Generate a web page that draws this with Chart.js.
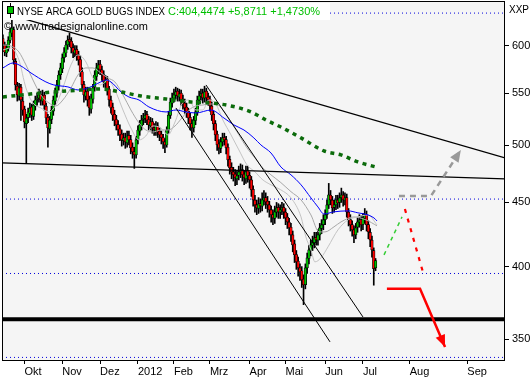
<!DOCTYPE html>
<html><head><meta charset="utf-8">
<script src="https://cdn.jsdelivr.net/npm/chart.js@4.4.1/dist/chart.umd.min.js"></script>
<style>html,body{margin:0;padding:0;background:#fff;}#wrap{width:532px;height:380px;}</style>
</head><body><div id="wrap"><canvas id="c" width="532" height="380"></canvas></div>
<script>
// ---------- DATA ----------
const monthTicks = [12, 33, 54, 75, 95, 115, 137, 157, 179, 200, 226, 258];
const monthLabels = ['Okt','Nov','Dez','2012','Feb','Mrz','Apr','Mai','Jun','Jul','Aug','Sep'];
const yTicks = [350, 400, 450, 500, 550, 600];

const opens = [608,601,592,597,606,614,618,583,557,547, 556,542,534,520,526,530,536,527,537,544,
 545,549,542,548,537,526,515,524,532,542, 550,557,569,575,587,592,601,607,605,598,
 592,596,590,585,572,559,547,552,544,534, 544,556,567,575,580,574,569,560,564,554,
 543,536,529,524,519,515,510,504,507,502, 509,505,498,494,491,505,513,518,524,525,
 529,524,518,522,516,513,518,513,510,507, 503,500,514,528,540,545,548,552,546,550,
 544,540,536,532,526,520,516,523,531,543, 547,550,545,552,546,544,537,529,520,510,
 501,497,503,507,505,498,487,480,476,474, 470,473,476,478,474,470,477,473,469,461,
 452,448,445,449,447,452,454,451,448,444, 440,437,442,446,442,444,446,442,438,434,
 430,424,417,409,404,399,397,391,387,399, 406,412,416,418,422,420,424,429,432,436,
 440,448,456,452,446,448,452,450,454,456, 452,454,442,436,432,428,424,430,434,436,
 432,437,440,432,426,420,412,399];
const highs = [612,604,601,610,620,629,621,586,561,560, 559,546,537,529,535,540,539,542,547,550,
 554,552,553,551,540,529,527,537,547,555, 563,573,581,591,598,605,611,614,609,602,
 600,600,594,589,576,562,556,556,547,549, 559,573,581,584,584,578,573,568,567,557,
 547,540,533,528,523,519,514,511,511,513, 513,509,502,498,508,518,523,528,530,533,
 532,527,526,525,520,522,521,516,513,510, 506,517,532,545,550,554,556,555,554,553,
 548,544,540,535,530,524,527,535,547,552, 554,554,557,555,550,547,541,532,523,513,
 505,507,511,511,508,501,490,484,480,478, 477,481,483,482,477,481,481,476,472,464,
 456,452,454,453,458,460,458,455,451,447, 444,447,450,449,448,450,449,445,441,437,
 433,427,420,412,407,402,400,394,402,410, 416,420,423,426,426,428,433,436,440,444,
 452,466,460,455,452,456,456,458,462,459, 458,457,445,440,435,431,433,438,440,439,
 441,445,443,435,429,423,414,406];
const lows = [597,589,588,594,603,610,580,553,542,543, 523,528,516,484,521,526,523,524,533,538,
 541,538,538,533,520,498,511,520,528,538, 546,553,564,571,582,588,596,599,592,587,
 588,584,579,567,553,541,543,537,528,530, 540,552,563,570,569,563,556,555,548,537,
 530,523,518,514,509,504,499,500,497,498, 500,492,488,479,488,501,509,514,519,521,
 519,514,514,511,509,509,507,504,501,497, 493,498,511,525,536,541,544,542,542,538,
 534,530,526,520,514,507,512,519,528,539, 543,540,541,540,538,532,523,514,504,495,
 492,493,499,500,492,481,474,470,468,464, 465,469,471,468,465,466,467,462,455,447,
 442,440,441,442,443,448,445,442,438,434, 432,433,438,437,437,440,437,432,429,424,
 419,411,403,398,393,390,385,373,384,395, 402,408,412,414,416,416,420,425,428,432,
 437,445,448,441,442,444,445,446,450,447, 448,438,431,427,423,418,421,426,430,427,
 428,433,427,421,415,407,386.6,397];
const closes = [601,593.1,597.5,606.3,615.3,619.8,584.5,558.3,548.1,555.2,
 543.1,533.2,521.6,525.4,531.3,535.1,528.3,538.1,543.1,545.1,
 548.1,543.1,547.1,538.1,525.4,515.9,523.5,533.2,543.1,551.2,
 558.3,568.6,576.0,586.7,593.1,600.8,606.3,604.1,597.5,593.1,
 595.3,589.9,584.5,571.8,558.3,548.1,551.2,543.1,535.2,545.1,
 555.2,568.6,576.0,579.2,573.9,568.6,561.4,563.4,553.2,543.1,
 535.2,528.3,523.5,518.8,514.0,509.4,504.7,506.6,502.9,508.4,
 504.7,497.3,493.7,491.0,504.7,514.0,518.8,523.5,525.4,528.3,
 523.5,518.8,521.6,515.9,514.0,517.8,512.1,509.4,506.6,502.9,
 500.1,514.0,528.3,541.1,545.1,548.1,551.2,547.1,549.2,543.1,
 539.1,535.2,531.3,525.4,519.7,515.9,523.5,531.3,543.1,547.1,
 549.2,545.1,551.2,545.1,543.1,537.2,528.3,519.7,509.4,500.1,
 497.3,502.9,506.6,504.7,497.3,486.5,479.5,476.0,473.4,470.7,
 472.5,476.0,477.7,473.4,470.7,476.0,472.5,469.0,460.5,452.1,
 448.0,445.5,448.8,447.2,452.1,453.8,450.5,448.0,443.9,439.8,
 437.4,442.3,445.5,442.3,443.9,445.5,442.3,437.4,434.2,429.5,
 424.0,416.3,408.8,403.5,399.1,396.2,390.4,386.9,399.1,406.5,
 412.5,416.3,418.6,421.7,420.1,424.0,429.5,431.9,435.8,439.8,
 448.0,456.3,452.1,445.5,448.0,452.1,449.6,453.8,456.3,452.1,
 453.8,442.3,435.8,431.9,427.9,424.0,429.5,434.2,435.8,431.9,
 437.4,439.8,431.9,426.3,420.1,412.5,398.5763,404.4474];

// moving averages
const maBlueX = [0,5.6,10,15.6,23.9,28.3,36.1,41.7,47.2,54.4,57.2,60,65.6,70,75.6,81.1,90.6,96.1,101.7,107.2,115.6,122.8,128.3,133.9,139.4,143.3,148.9,154.4,160,165.6,171.1,175,178.3,183.9,191.7,197.2,202.8,206.1,207.8];
const maBlueY = [576.0,581.3,578.1,570.7,561.4,558.3,556.3,553.2,555.2,561.4,563.4,561.4,551.2,546.1,543.1,536.2,531.3,533.2,531.3,530.3,533.2,525.4,518.8,514.0,506.6,500.1,492.8,480.3,473.4,464.8,453.8,446.3,440.6,442.3,443.1,441.5,439.8,437.4,435.0];
const maFastX = [0,4.4,8.9,12.8,16.7,21.1,25.6,29.4,33.3,37.8,41.7,46.1,50,54.4,58.3,62.2,66.7,71.1,75.6,79.4,83.3,87.8,91.7,95.6,99.4,103.3,107.2,111.1,114.4,118.3,122.2,126.7,131.1,135.6,140,144.4,148.9,154.4,160,165.6,168.3,171.1,173.3,176.7,180.6,186.1,191.7,197.2,202.8,207.8];
const maFastY = [595.3,597.5,584.5,555.2,540.1,535.2,531.3,538.1,555.2,579.2,589.9,582.4,565.5,558.3,563.4,553.2,533.2,515.9,504.7,508.4,517.8,515.9,509.4,521.6,539.1,543.1,533.2,533.2,543.1,539.1,523.5,509.4,495.5,482.1,476.0,469.0,464.8,460.5,453.8,438.2,422.4,412.5,403.5,406.5,414.8,427.9,435.8,438.2,439.8,431.9];
const maSlowX = [0,4.4,8.9,12.8,16.7,21.1,25.6,29.4,33.3,37.8,41.7,46.1,50,54.4,58.3,62.2,66.7,71.1,75.6,79.4,83.3,87.8,91.7,95.6,99.4,103.3,107.2,111.1,114.4,118.3,122.2,126.7,131.1,135.6,140,144.4,148.9,154.4,160,165.6,171.1,175.6,178.9,183.9,187.8,195,201.7,207.8];
const maSlowY = [600.8,599.7,593.1,579.2,563.4,548.1,540.1,537.2,543.1,555.2,568.6,576.0,576.0,570.7,565.5,561.4,548.1,533.2,520.7,514.0,512.1,514.0,514.0,517.8,525.4,533.2,537.2,538.1,539.1,539.1,533.2,521.6,509.4,497.3,488.3,479.5,473.4,466.7,459.0,452.1,439.8,426.3,426.3,430.3,434.2,438.2,435.8,431.1];
const ma200X = [0,21.1,43.3,54.4,65.6,76.7,90.6,104.4,115.6,126.7,137.8,146.1,154.4,165.6,178.3,187.8,197.2,207.2];
const ma200Y = [546.1,550.1,553.1,554.2,551.1,547.1,544.1,541.1,540.1,537.2,531.3,523.5,516.8,506.6,494.6,491.0,484.7,480.3];

// drawn lines
const xEnds = [-0.5, 278.9];
const dottedLevels = [637, 452.8, 395.0, 338.6];
const thickLevel = 363.2;
const supportY = [483.9, 469.9];
const resistX = [2.2, 278.9], resistY = [636, 488.3];
const chanUpX = [112.8, 200], chanUpY = [558.3, 364.7];
const chanLoX = [96.1, 181.7], chanLoY = [535.2, 348.4];
const grayArrowX = [220, 237.8, 254.4], grayArrowY = [455.4, 455.4, 495.5];
const greenDashX = [211.7, 221.7], greenDashY = [408.7, 438.2];
const redDashX = [223.3, 233.3], redDashY = [444.6, 396.1];
const redArrowX = [213.3, 231.7, 245.6], redArrowY = [384.1, 384.1, 345.2];

// ---------- CHART ----------
const GREEN = '#00c000', RED = '#ff0000';
const pts = (xs, ys) => xs.map((x, i) => ({x, y: ys[i]}));
const lineDs = (data, color, width, order, extra) => Object.assign({
  type: 'line', data, borderColor: color, borderWidth: width, pointRadius: 0,
  fill: false, tension: 0, order
}, extra || {});

const datasets = [];
dottedLevels.forEach(v => datasets.push(lineDs(pts(xEnds, [v, v]), '#0000dd', 1, 9, {borderDash: [1, 3]})));
datasets.push({type: 'bar', data: closes.map((c, i) => ({x: i, y: [lows[i], highs[i]]})),
  backgroundColor: '#000', borderWidth: 0, barThickness: 1, grouped: false, order: 8});
datasets.push({type: 'bar', data: closes.map((c, i) => ({x: i, y: [opens[i], c]})),
  backgroundColor: closes.map((c, i) => c >= opens[i] ? GREEN : RED),
  borderColor: '#000', borderWidth: 0.7, borderSkipped: false, barThickness: 2.6, grouped: false, order: 7});
datasets.push(lineDs(pts(maSlowX, maSlowY), '#a8a8a8', 1, 6, {cubicInterpolationMode: 'monotone'}));
datasets.push(lineDs(pts(maFastX, maFastY), '#c4c4c4', 1, 5, {cubicInterpolationMode: 'monotone'}));
datasets.push(lineDs(pts(maBlueX, maBlueY), '#0000ff', 1, 4, {cubicInterpolationMode: 'monotone'}));
datasets.push(lineDs(pts(ma200X, ma200Y), '#0b6b0b', 3.5, 3, {borderDash: [4, 4.5], cubicInterpolationMode: 'monotone'}));
datasets.push(lineDs(pts(xEnds, [thickLevel, thickLevel]), '#000', 4, 2));
datasets.push(lineDs(pts(xEnds, supportY), '#000', 1.3, 2));
datasets.push(lineDs(pts(resistX, resistY), '#000', 1.3, 2));
datasets.push(lineDs(pts(chanUpX, chanUpY), '#000', 1, 2));
datasets.push(lineDs(pts(chanLoX, chanLoY), '#000', 1, 2));
datasets.push(lineDs(pts(grayArrowX, grayArrowY), '#999999', 2.5, 1, {borderDash: [6, 5], arrowHead: true}));
datasets.push(lineDs(pts(greenDashX, greenDashY), '#33cc33', 1.5, 1, {borderDash: [4, 4]}));
datasets.push(lineDs(pts(redDashX, redDashY), '#ff0000', 2.2, 1, {borderDash: [4, 6]}));
datasets.push(lineDs(pts(redArrowX, redArrowY), '#ff0000', 2.5, 1, {arrowHead: true}));

const FONT = '"Liberation Sans", Arial, sans-serif';
const decor = {
  id: 'decor',
  beforeDraw(chart) {
    const {ctx, chartArea: a} = chart;
    ctx.save();
    ctx.fillStyle = '#fff'; ctx.fillRect(0, 0, chart.width, chart.height);
    ctx.fillStyle = '#f5f5f5'; ctx.fillRect(a.left, a.top, a.right - a.left, a.bottom - a.top);
    ctx.restore();
  },
  afterDatasetsDraw(chart) {
    const ctx = chart.ctx;
    chart.data.datasets.forEach((ds, i) => {
      if (!ds.arrowHead) return;
      const p = chart.getDatasetMeta(i).data;
      const p1 = p[p.length - 2], p2 = p[p.length - 1];
      const ang = Math.atan2(p2.y - p1.y, p2.x - p1.x), L = 12, W = 5;
      const bx = p2.x - L * Math.cos(ang), by = p2.y - L * Math.sin(ang);
      ctx.save(); ctx.fillStyle = ds.borderColor; ctx.beginPath();
      ctx.moveTo(p2.x, p2.y);
      ctx.lineTo(bx + W * Math.sin(ang), by - W * Math.cos(ang));
      ctx.lineTo(bx - W * Math.sin(ang), by + W * Math.cos(ang));
      ctx.closePath(); ctx.fill(); ctx.restore();
    });
  },
  afterDraw(chart) {
    const {ctx, chartArea: a} = chart;
    ctx.save();
    // frame
    ctx.strokeStyle = '#000'; ctx.lineWidth = 1;
    ctx.strokeRect(a.left + 0.5, a.top - 0.5, a.right - a.left - 1, a.bottom - a.top + 1);
    // title box
    ctx.fillStyle = '#fff'; ctx.fillRect(a.left + 1, a.top + 1, 327, 17);
    // icon
    ctx.strokeStyle = '#000'; ctx.beginPath(); ctx.moveTo(10.5, 3); ctx.lineTo(10.5, 18); ctx.stroke();
    ctx.fillStyle = '#00c000'; ctx.fillRect(8, 7, 5, 6);
    ctx.strokeRect(7.5, 6.5, 6, 7);
    ctx.textBaseline = 'alphabetic';
    ctx.font = '11px ' + FONT;
    ctx.fillStyle = '#000';
    ctx.fillText('NYSE ARCA GOLD BUGS INDEX', 17, 14.5, 148);
    ctx.fillStyle = '#00c000';
    ctx.fillText('C:404,4474 +5,8711 +1,4730%', 168, 14.5, 158);
    ctx.fillStyle = '#000';
    ctx.fillText('\u00a9 www.tradesignalonline.com', 4, 29.5, 144);
    ctx.font = '10px ' + FONT;
    ctx.fillText('XXP', 509, 13);
    ctx.restore();
  }
};

Chart.defaults.font.family = FONT;
new Chart(document.getElementById('c'), {
  type: 'bar',
  data: {datasets},
  options: {
    responsive: false, animation: false, devicePixelRatio: 1,
    layout: {padding: {left: 2, top: 2, right: 0, bottom: 0}},
    plugins: {legend: {display: false}, tooltip: {enabled: false}},
    scales: {
      x: {
        type: 'linear', min: -0.5, max: 278.9, offset: false,
        afterBuildTicks: s => { s.ticks = monthTicks.map(v => ({value: v})); },
        afterFit: s => { s.height = 20; s.paddingLeft = 0; s.paddingRight = 0; },
        grid: {display: true, drawOnChartArea: false, drawTicks: true, tickLength: 4, color: '#000', offset: false},
        border: {display: false},
        ticks: {autoSkip: false, maxRotation: 0, minRotation: 0, align: 'start', padding: 1, color: '#000',
          font: {size: 11}, callback: v => { const i = monthTicks.indexOf(v); return i >= 0 ? monthLabels[i] : ''; }}
      },
      y: {
        type: 'logarithmic', position: 'right', min: 337, max: 650.1,
        afterBuildTicks: s => { s.ticks = yTicks.map(v => ({value: v})); },
        afterFit: s => { s.width = 27; s.paddingTop = 0; s.paddingBottom = 0; },
        grid: {display: true, drawOnChartArea: false, drawTicks: true, tickLength: 4, color: '#000'},
        border: {display: false},
        ticks: {padding: 3, color: '#000', font: {size: 11}, callback: v => String(v)}
      }
    }
  },
  plugins: [decor]
});
</script></body></html>
